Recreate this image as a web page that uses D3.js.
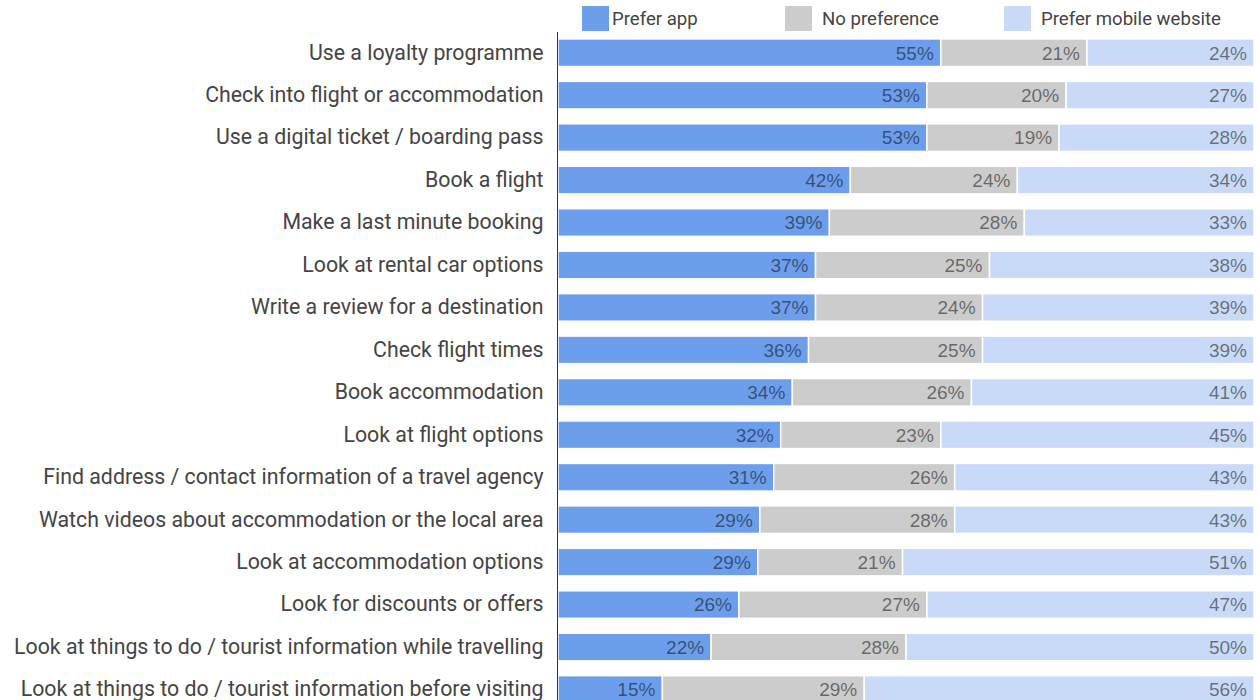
<!DOCTYPE html>
<html>
<head>
<meta charset="utf-8">
<script src="https://cdn.jsdelivr.net/npm/d3@7"></script>
<style>
  html, body { margin: 0; padding: 0; background: #fff; }
  svg { display: block; font-family: Roboto, "Noto Sans", Arial, sans-serif; }
</style>
</head>
<body>
<svg id="chart" width="1258" height="700"></svg>
<script>
// Activities (rows, top to bottom)
const activities = [
  "Use a loyalty programme",
  "Check into flight or accommodation",
  "Use a digital ticket / boarding pass",
  "Book a flight",
  "Make a last minute booking",
  "Look at rental car options",
  "Write a review for a destination",
  "Check flight times",
  "Book accommodation",
  "Look at flight options",
  "Find address / contact information of a travel agency",
  "Watch videos about accommodation or the local area",
  "Look at accommodation options",
  "Look for discounts or offers",
  "Look at things to do / tourist information while travelling",
  "Look at things to do / tourist information before visiting"
];

// Share of respondents (%) per preference
const preferApp =    [55, 53, 53, 42, 39, 37, 37, 36, 34, 32, 31, 29, 29, 26, 22, 15];
const noPreference = [21, 20, 19, 24, 28, 25, 24, 25, 26, 23, 26, 28, 21, 27, 28, 29];
const preferWeb =    [24, 27, 28, 34, 33, 38, 39, 39, 41, 45, 43, 43, 51, 47, 50, 56];

const seriesNames = ["Prefer app", "No preference", "Prefer mobile website"];
const seriesColors = ["#6d9eeb", "#cccccc", "#c9daf8"];

const rows = activities.map((name, i) => ({
  name,
  "Prefer app": preferApp[i],
  "No preference": noPreference[i],
  "Prefer mobile website": preferWeb[i]
}));

const svg = d3.select("#chart");

// Layout
const plotLeft = 558, plotRight = 1254;
const x = d3.scaleLinear().domain([0, 1]).range([plotLeft, plotRight]);
const y = d3.scaleBand()
  .domain(activities)
  .range([31.5, 710.7])
  .paddingInner(0.35)
  .paddingOuter(0.175);
const color = d3.scaleOrdinal().domain(seriesNames).range(seriesColors);

// 100% stacked layout: each row is normalised to its own total
const stacked = d3.stack()
  .keys(seriesNames)
  .offset(d3.stackOffsetExpand)(rows);

const layers = svg.append("g")
  .selectAll("g")
  .data(stacked)
  .join("g")
  .attr("fill", d => color(d.key));

layers.selectAll("rect")
  .data(d => d.map(s => ({ key: d.key, s })))
  .join("rect")
  .attr("x", d => x(d.s[0]))
  .attr("y", d => y(d.s.data.name))
  .attr("width", d => x(d.s[1]) - x(d.s[0]))
  .attr("height", y.bandwidth())
  .attr("stroke", "#ffffff")
  .attr("stroke-width", 1.5);

// Value labels, right-aligned inside each segment
layers.selectAll("text")
  .data(d => d.map(s => ({ key: d.key, s })))
  .join("text")
  .attr("x", d => x(d.s[1]) - 7)
  .attr("y", d => y(d.s.data.name) + y.bandwidth() / 2)
  .attr("dy", "0.36em")
  .attr("text-anchor", "end")
  .attr("font-family", "'Liberation Sans', Arial, sans-serif")
  .attr("font-size", 19)
  .attr("fill", "#000")
  .attr("fill-opacity", 0.5)
  .text(d => d.s.data[d.key] + "%");

// Category axis
const yAxis = svg.append("g")
  .attr("transform", `translate(${plotLeft - 0.5},0)`)
  .call(d3.axisLeft(y).tickSize(0).tickPadding(14));
yAxis.select(".domain")
  .attr("d", `M0,32V700`)
  .attr("stroke", "#333")
  .attr("stroke-width", 1);
yAxis.selectAll("text")
  .attr("font-size", 21.3)
  .attr("font-family", "Roboto, sans-serif")
  .attr("fill", "#444");

// Legend
const legendX = [582, 785, 1004];
const legend = svg.append("g")
  .selectAll("g")
  .data(seriesNames)
  .join("g")
  .attr("transform", (d, i) => `translate(${legendX[i]},6)`);
legend.append("rect")
  .attr("width", 27)
  .attr("height", 25)
  .attr("fill", d => color(d));
legend.append("text")
  .attr("x", (d, i) => i === 0 ? 30 : 37)
  .attr("y", 12.5)
  .attr("dy", "0.36em")
  .attr("font-size", 18.6)
  .attr("fill", "#444")
  .text(d => d);
</script>
</body>
</html>
